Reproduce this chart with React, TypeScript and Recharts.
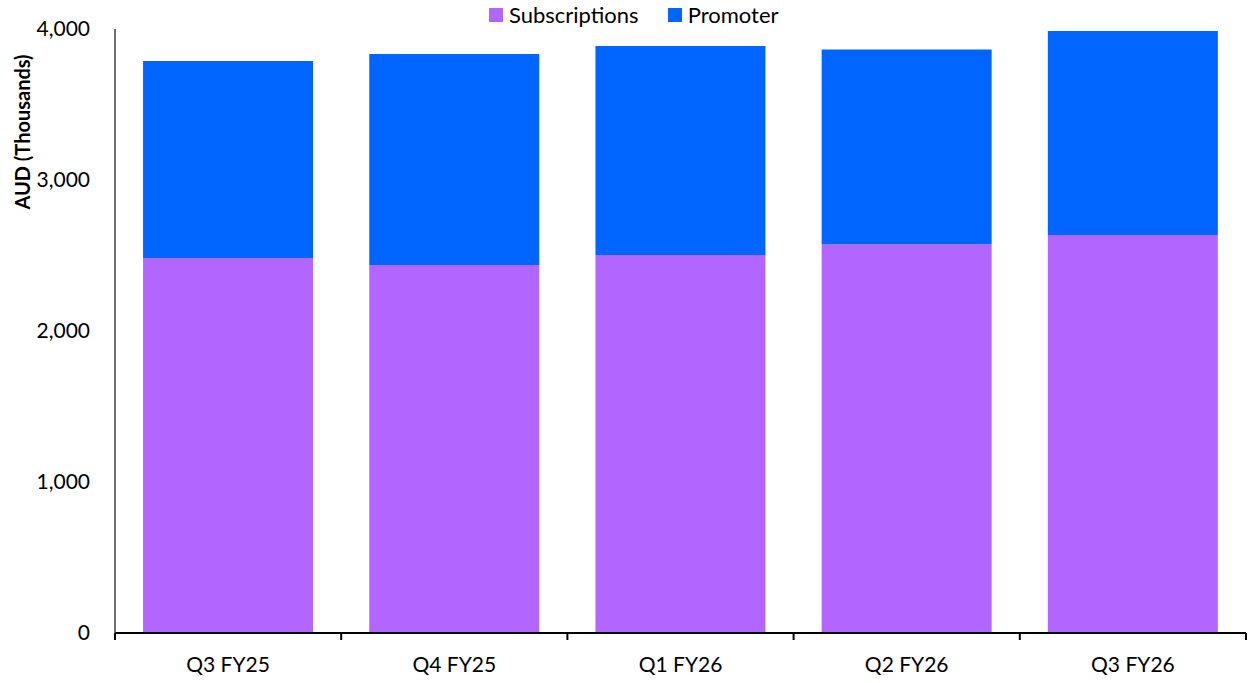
import { Bar, BarChart, XAxis, YAxis } from "recharts"

// Quarterly revenue, AUD thousands
const quarters = ["Q3 FY25", "Q4 FY25", "Q1 FY26", "Q2 FY26", "Q3 FY26"]
const subscriptions = [2483, 2437, 2503, 2574, 2636]
const promoter = [1305, 1397, 1384, 1290, 1351]
const yTicks = [0, 1000, 2000, 3000, 4000]

const PURPLE = "#B266FF"
const BLUE = "#0066FF"
const FONT = "Lato, 'Open Sans', sans-serif"

const W = 1249
const H = 683
const PLOT_LEFT = 115
const PLOT_RIGHT = 1246
const BAND = (PLOT_RIGHT - PLOT_LEFT) / quarters.length

const data = quarters.map((q, i) => ({
  quarter: q,
  subscriptions: subscriptions[i],
  promoter: promoter[i],
}))

// category label plus tick marks on the band edges
function QuarterTick(props: any) {
  const { x, y, payload, index } = props
  const last = index === quarters.length - 1
  return (
    <g>
      <line x1={x - BAND / 2} x2={x - BAND / 2} y1={y} y2={y + 7} stroke="#000" strokeWidth={2} />
      {last && <line x1={x + BAND / 2} x2={x + BAND / 2} y1={y} y2={y + 7} stroke="#000" strokeWidth={2} />}
      <text x={x} y={y + 39} textAnchor="middle" fontSize={21} fontFamily={FONT} fill="#000">
        {payload.value}
      </text>
    </g>
  )
}

function LegendRow() {
  const item = (color: string, label: string, gap: number) => (
    <span style={{ display: "inline-flex", alignItems: "center", marginRight: gap }}>
      <span style={{ width: 14, height: 14, background: color, display: "inline-block", marginRight: 6 }} />
      <span>{label}</span>
    </span>
  )
  return (
    <div
      style={{
        position: "absolute",
        top: 1,
        left: 489,
        fontFamily: FONT,
        fontSize: 22,
        color: "#000",
        whiteSpace: "nowrap",
        display: "flex",
        alignItems: "center",
      }}
    >
      {item(PURPLE, "Subscriptions", 29)}
      {item(BLUE, "Promoter", 0)}
    </div>
  )
}

export default function App() {
  return (
    <div style={{ position: "relative", width: W, height: H, background: "#fff" }}>
      <style>{"body{margin:0}"}</style>
      <LegendRow />
      <BarChart
        width={W}
        height={H}
        data={data}
        margin={{ top: 29, right: W - PLOT_RIGHT, bottom: 0, left: 0 }}
        barCategoryGap="12.4%"
      >
        <XAxis
          dataKey="quarter"
          height={50}
          axisLine={{ stroke: "#000", strokeWidth: 2 }}
          tickLine={false}
          tickSize={0}
          tickMargin={0}
          tick={<QuarterTick />}
          interval={0}
        />
        <YAxis
          width={PLOT_LEFT}
          domain={[0, 4000]}
          ticks={yTicks}
          interval={0}
          axisLine={{ stroke: "#404040", strokeWidth: 1.5 }}
          tickLine={false}
          tickSize={0}
          tickMargin={25}
          tick={{ fontSize: 21, fontFamily: FONT, fill: "#000" }}
          tickFormatter={(v: number) => v.toLocaleString("en-US")}
          label={{
            content: () => (
              <text
                x={25}
                y={132}
                transform="rotate(-90 25 132)"
                textAnchor="middle"
                dominantBaseline="middle"
                fontSize={20}
                fontWeight="bold"
                fontFamily={FONT}
                fill="#000"
              >
                AUD (Thousands)
              </text>
            ),
          }}
        />
        <Bar dataKey="subscriptions" stackId="a" fill={PURPLE} isAnimationActive={false} />
        <Bar dataKey="promoter" stackId="a" fill={BLUE} isAnimationActive={false} />
      </BarChart>
    </div>
  )
}
